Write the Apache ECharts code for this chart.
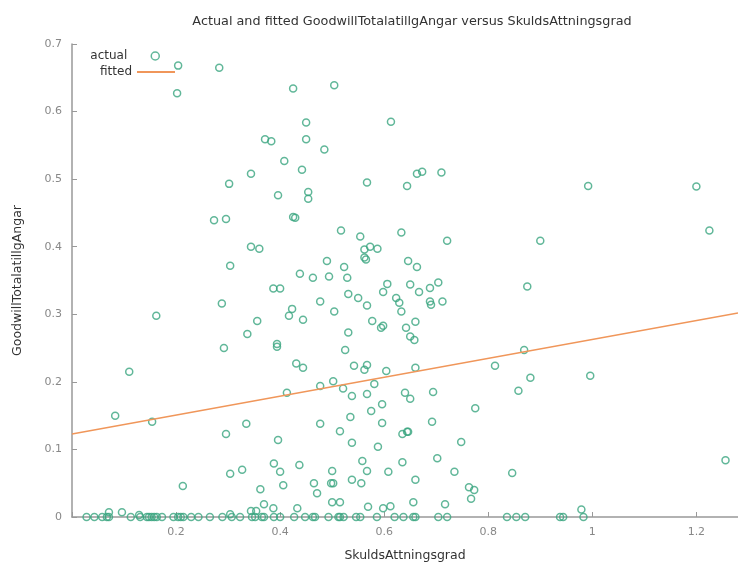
<!DOCTYPE html>
<html>
<head>
<meta charset="utf-8">
<script src="https://cdn.jsdelivr.net/npm/echarts@6/dist/echarts.min.js"></script>
<style>
  html, body { margin: 0; padding: 0; background: #fff; }
  #chart { width: 738px; height: 563px; }
</style>
</head>
<body>
<div id="chart"></div>
<script>
var actualPoints = [
  [0.204, 0.668], [0.202, 0.627], [0.283, 0.665], [0.425, 0.634], [0.45, 0.584],
  [0.371, 0.559], [0.383, 0.556], [0.45, 0.559], [0.408, 0.527], [0.442, 0.514],
  [0.344, 0.508], [0.302, 0.493], [0.396, 0.476], [0.454, 0.481], [0.454, 0.471],
  [0.425, 0.444], [0.429, 0.443], [0.273, 0.439], [0.296, 0.441], [0.344, 0.4],
  [0.36, 0.397], [0.304, 0.372], [0.438, 0.36], [0.504, 0.639], [0.613, 0.585],
  [0.485, 0.544], [0.567, 0.495], [0.663, 0.508], [0.673, 0.511], [0.71, 0.51],
  [0.644, 0.49], [0.517, 0.424], [0.554, 0.415], [0.633, 0.421], [0.721, 0.409],
  [0.562, 0.396], [0.573, 0.4], [0.587, 0.397], [0.562, 0.384], [0.565, 0.381],
  [0.49, 0.379], [0.646, 0.379], [0.523, 0.37], [0.663, 0.37], [0.463, 0.354],
  [0.494, 0.356], [0.529, 0.354], [0.992, 0.49], [1.2, 0.489], [0.9, 0.409],
  [1.225, 0.424],
  [0.387, 0.338], [0.4, 0.338], [0.288, 0.316], [0.162, 0.298], [0.423, 0.308],
  [0.417, 0.298], [0.444, 0.292], [0.356, 0.29], [0.337, 0.271], [0.394, 0.256],
  [0.394, 0.252], [0.292, 0.25], [0.431, 0.227], [0.444, 0.221], [0.11, 0.215],
  [0.413, 0.184], [0.083, 0.15], [0.154, 0.141], [0.335, 0.138], [0.296, 0.123],
  [0.396, 0.114], [0.388, 0.079], [0.4, 0.067], [0.437, 0.077], [0.327, 0.07],
  [0.304, 0.064], [0.406, 0.047], [0.213, 0.046], [0.362, 0.041],
  [0.369, 0.019], [0.387, 0.013], [0.433, 0.013], [0.344, 0.009], [0.354, 0.009],
  [0.071, 0.007], [0.096, 0.007], [0.129, 0.003], [0.304, 0.004], [0.5, 0.022],
  [0.515, 0.022], [0.569, 0.015], [0.598, 0.013], [0.612, 0.016], [0.656, 0.022],
  [0.717, 0.019], [0.767, 0.027], [0.763, 0.044], [0.773, 0.04], [0.979, 0.011],
  [0.606, 0.345], [0.598, 0.333], [0.65, 0.344], [0.667, 0.333], [0.688, 0.339],
  [0.704, 0.347], [0.531, 0.33], [0.55, 0.324], [0.567, 0.313], [0.623, 0.324],
  [0.629, 0.317], [0.633, 0.304], [0.688, 0.319], [0.69, 0.314], [0.712, 0.319],
  [0.477, 0.319], [0.504, 0.304], [0.577, 0.29], [0.598, 0.283], [0.594, 0.28],
  [0.642, 0.28], [0.66, 0.289], [0.65, 0.267], [0.658, 0.262], [0.531, 0.273],
  [0.525, 0.247], [0.542, 0.224], [0.567, 0.225], [0.562, 0.218], [0.604, 0.216],
  [0.66, 0.221], [0.813, 0.224], [0.502, 0.201], [0.477, 0.194], [0.521, 0.19],
  [0.581, 0.197], [0.538, 0.179], [0.567, 0.182], [0.64, 0.184], [0.65, 0.175],
  [0.694, 0.185], [0.596, 0.167], [0.775, 0.161], [0.535, 0.148], [0.575, 0.157],
  [0.477, 0.138], [0.596, 0.139], [0.692, 0.141], [0.515, 0.127], [0.635, 0.123],
  [0.644, 0.126], [0.646, 0.126], [0.538, 0.11], [0.588, 0.104], [0.748, 0.111],
  [0.5, 0.068], [0.558, 0.083], [0.567, 0.068], [0.608, 0.067], [0.635, 0.081],
  [0.702, 0.087], [0.735, 0.067], [0.465, 0.05], [0.498, 0.05], [0.502, 0.05],
  [0.538, 0.055], [0.556, 0.05], [0.66, 0.055], [0.471, 0.035],
  [0.875, 0.341], [0.869, 0.247], [0.881, 0.206], [0.858, 0.187], [0.996, 0.209],
  [0.846, 0.065], [1.256, 0.084]
]

// observations sitting on zero (x values only)
var zeroX = [
  0.028, 0.043, 0.058, 0.067, 0.071, 0.113, 0.131, 0.144, 0.148, 0.153,
  0.158, 0.163, 0.173, 0.195, 0.204, 0.209, 0.214, 0.229, 0.243, 0.265,
  0.289, 0.307, 0.323, 0.346, 0.352, 0.365, 0.369, 0.388, 0.4, 0.427,
  0.448, 0.463, 0.467, 0.493, 0.512, 0.515, 0.522, 0.546, 0.554, 0.586,
  0.62, 0.637, 0.656, 0.66, 0.704, 0.721, 0.836, 0.854, 0.871, 0.938,
  0.944, 0.983
]

// fitted line end points
var fittedX = [0, 1.28]
var fittedY = [0.123, 0.302]

var xTicks = [0.2, 0.4, 0.6, 0.8, 1, 1.2]

var actualData = actualPoints.concat(zeroX.map(function (x) { return [x, 0] }))
var fittedData = fittedX.map(function (x, i) { return [x, fittedY[i]] })

var green = '#3aa57f'
var orange = '#f0965a'
var font = 'DejaVu Sans'

var chart = echarts.init(document.getElementById('chart'))
chart.setOption({
  animation: false,
  title: {
    text: 'Actual and fitted GoodwillTotalatillgAngar versus SkuldsAttningsgrad',
    left: 407,
    textAlign: 'center',
    top: 10,
    textStyle: { fontFamily: font, fontSize: 12.8, fontWeight: 'normal', color: '#333' }
  },
  legend: [{
    data: ['actual'],
    orient: 'vertical',
    align: 'right',
    right: 578,
    top: 50,
    padding: 0,
    itemWidth: 8,
    itemHeight: 8,
    itemStyle: { color: 'rgba(255,255,255,0)', borderColor: green, borderWidth: 1.5 },
    textStyle: { fontFamily: font, fontSize: 12, color: '#333', padding: [0, 19, 0, 0] }
  }, {
    data: [{ name: 'fitted', icon: 'rect' }],
    orient: 'vertical',
    align: 'right',
    right: 563,
    top: 66,
    padding: 0,
    itemWidth: 38,
    itemHeight: 2,
    textStyle: { fontFamily: font, fontSize: 12, color: '#333' }
  }],
  grid: { left: 72, right: 0, top: 44, bottom: 46, outerBoundsMode: 'none' },
  xAxis: {
    type: 'value',
    min: 0,
    max: 1.28,
    interval: 0.2,
    name: 'SkuldsAttningsgrad',
    nameLocation: 'middle',
    nameGap: 32,
    nameTextStyle: { fontFamily: font, fontSize: 12.5, color: '#333' },
    axisLine: { lineStyle: { color: '#999', width: 1.5 } },
    axisTick: { inside: true, length: 5, lineStyle: { color: '#999' } },
    axisLabel: {
      margin: 10,
      fontFamily: font,
      fontSize: 11,
      color: '#888',
      formatter: function (v) {
        for (var i = 0; i < xTicks.length; i++) {
          if (Math.abs(v - xTicks[i]) < 1e-6) return String(xTicks[i])
        }
        return ''
      }
    },
    splitLine: { show: false }
  },
  yAxis: {
    type: 'value',
    min: 0,
    max: 0.7,
    interval: 0.1,
    name: 'GoodwillTotalatillgAngar',
    nameLocation: 'middle',
    nameGap: 48,
    nameTextStyle: { fontFamily: font, fontSize: 12.5, color: '#333' },
    axisLine: { show: true, lineStyle: { color: '#999', width: 1.5 } },
    axisTick: { show: true, inside: true, length: 5, lineStyle: { color: '#999' } },
    axisLabel: { margin: 10, fontFamily: font, fontSize: 11, color: '#888' },
    splitLine: { show: false }
  },
  series: [{
    name: 'actual',
    type: 'scatter',
    data: actualData,
    symbol: 'circle',
    symbolSize: 7,
    itemStyle: { color: 'rgba(255,255,255,0)', borderColor: green, borderWidth: 1.5 }
  }, {
    name: 'fitted',
    type: 'line',
    data: fittedData,
    symbol: 'none',
    lineStyle: { color: orange, width: 1.5 },
    itemStyle: { color: orange }
  }]
})
</script>
</body>
</html>
